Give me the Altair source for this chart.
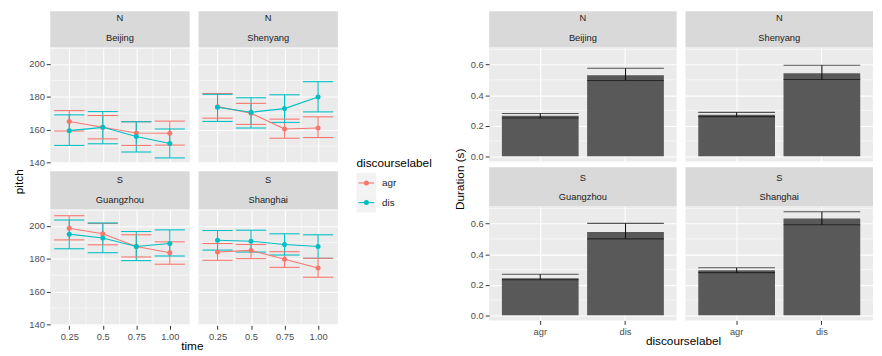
import altair as alt
import pandas as pd

FONT = "Liberation Sans"

cities = ["Beijing", "Shenyang", "Guangzhou", "Shanghai"]
groups = ["N", "N", "S", "S"]
labels = ["agr", "dis"]
times = [0.25, 0.5, 0.75, 1.0]

# pitch (left figure): one list per city, in time order
agr_mean = [[165.0, 161.5, 158.0, 157.8], [174.0, 170.0, 160.4, 161.0],
            [198.6, 195.2, 187.5, 183.7], [184.1, 185.1, 179.7, 174.4]]
agr_lo = [[159.2, 154.4, 150.4, 150.6], [167.0, 163.2, 154.8, 155.2],
          [191.5, 188.5, 181.1, 176.7], [179.1, 180.1, 174.8, 168.8]]
agr_hi = [[171.6, 168.6, 164.8, 165.2], [182.0, 176.0, 166.4, 167.8],
          [206.2, 201.5, 194.6, 190.3], [189.3, 188.7, 184.3, 180.3]]
dis_mean = [[159.4, 161.4, 155.8, 151.6], [173.6, 170.6, 172.8, 179.8],
            [195.0, 192.6, 187.5, 189.3], [191.3, 190.7, 188.7, 187.5]]
dis_lo = [[150.4, 151.4, 146.4, 142.8], [165.0, 161.0, 164.4, 170.8],
          [186.1, 183.7, 178.9, 181.7], [185.3, 184.1, 182.3, 180.3]]
dis_hi = [[169.0, 171.0, 164.8, 160.4], [181.5, 179.4, 181.2, 189.2],
          [203.6, 201.8, 196.6, 197.6], [197.2, 197.4, 195.2, 194.6]]

# duration (right figure): one value per city
dur_agr_mean = [0.265, 0.272, 0.242, 0.294]
dur_agr_lo = [0.250, 0.259, 0.232, 0.279]
dur_agr_hi = [0.280, 0.287, 0.268, 0.311]
dur_dis_mean = [0.530, 0.543, 0.545, 0.634]
dur_dis_lo = [0.496, 0.502, 0.500, 0.593]
dur_dis_hi = [0.576, 0.596, 0.602, 0.678]

pitch_ticks = [140, 160, 180, 200]
pitch_minor = [150, 170, 190]
time_minor = [0.375, 0.625, 0.875]
dur_ticks = [0.0, 0.2, 0.4, 0.6]
dur_minor = [0.1, 0.3, 0.5, 0.7]

# ---- tables built from the lists ----
prow = []
for ci, city in enumerate(cities):
    for ti, t in enumerate(times):
        prow.append(dict(city=city, time=t, label="agr", mean=agr_mean[ci][ti],
                         lo=agr_lo[ci][ti], hi=agr_hi[ci][ti]))
        prow.append(dict(city=city, time=t, label="dis", mean=dis_mean[ci][ti],
                         lo=dis_lo[ci][ti], hi=dis_hi[ci][ti]))
pitch_df = pd.DataFrame(prow)

drow = []
for ci, city in enumerate(cities):
    drow.append(dict(city=city, label="agr", mean=dur_agr_mean[ci], lo=dur_agr_lo[ci], hi=dur_agr_hi[ci]))
    drow.append(dict(city=city, label="dis", mean=dur_dis_mean[ci], lo=dur_dis_lo[ci], hi=dur_dis_hi[ci]))
dur_df = pd.DataFrame(drow)

color_scale = alt.Scale(domain=labels, range=["#F8766D", "#00BFC4"])
PANEL_BG = alt.ViewBackground(fill="#EBEBEB", stroke=None)


def strip(group, city, width, height):
    df = pd.DataFrame({"group": [group], "city": [city]})
    base = alt.Chart(df)
    t1 = base.mark_text(fontSize=9.5, color="#1A1A1A", font=FONT, baseline="middle").encode(
        x=alt.value(width / 2), y=alt.value(height - 29.5), text="group:N")
    t2 = base.mark_text(fontSize=9.5, color="#1A1A1A", font=FONT, baseline="middle").encode(
        x=alt.value(width / 2), y=alt.value(height - 9.5), text="city:N")
    return alt.layer(t1, t2).properties(
        width=width, height=height, view=alt.ViewBackground(fill="#D9D9D9", stroke=None))


def pitch_plot(city, show_x, show_y, w, h):
    d = pitch_df[pitch_df.city == city]
    xs = alt.Scale(domain=[0.108, 1.148], nice=False, zero=False)
    ys = alt.Scale(domain=[139.5, 209.4], nice=False, zero=False)
    xa = alt.Axis(values=times, title=None, grid=True, gridColor="white", gridWidth=1.1,
                  labels=show_x, ticks=show_x,
                  labelExpr="datum.value == 1 ? '1.00' : toString(datum.value)")
    ya = alt.Axis(values=pitch_ticks, title=None, grid=True, gridColor="white", gridWidth=1.1,
                  labels=show_y, ticks=show_y)
    mx = alt.Chart(pd.DataFrame({"v": time_minor})).mark_rule(color="white", strokeWidth=0.55).encode(
        x=alt.X("v:Q", scale=xs, axis=xa))
    my = alt.Chart(pd.DataFrame({"v": pitch_minor})).mark_rule(color="white", strokeWidth=0.55).encode(
        y=alt.Y("v:Q", scale=ys, axis=ya))
    base = alt.Chart(d)
    col = alt.Color("label:N", scale=color_scale, legend=None)
    vbar = base.mark_rule(strokeWidth=1.1).encode(
        x=alt.X("time:Q", scale=xs, axis=xa), y=alt.Y("lo:Q", scale=ys, axis=ya), y2="hi:Q", color=col)
    caps_lo = base.transform_calculate(x0="datum.time - 0.1125", x1="datum.time + 0.1125").mark_rule(
        strokeWidth=1.1).encode(x=alt.X("x0:Q", scale=xs, axis=xa), x2="x1:Q",
                                y=alt.Y("lo:Q", scale=ys, axis=ya), color=col)
    caps_hi = base.transform_calculate(x0="datum.time - 0.1125", x1="datum.time + 0.1125").mark_rule(
        strokeWidth=1.1).encode(x=alt.X("x0:Q", scale=xs, axis=xa), x2="x1:Q",
                                y=alt.Y("hi:Q", scale=ys, axis=ya), color=col)
    line = base.mark_line(strokeWidth=1.1).encode(
        x=alt.X("time:Q", scale=xs, axis=xa), y=alt.Y("mean:Q", scale=ys, axis=ya), color=col)
    pts = base.mark_circle(size=26, opacity=1).encode(
        x=alt.X("time:Q", scale=xs, axis=xa), y=alt.Y("mean:Q", scale=ys, axis=ya), color=col)
    return alt.layer(mx, my, vbar, caps_lo, caps_hi, line, pts).properties(
        width=w, height=h, view=PANEL_BG)


def dur_plot(city, show_x, show_y, w, h):
    d = dur_df[dur_df.city == city]
    xs = alt.Scale(domain=labels, paddingInner=0.1, paddingOuter=0.15)
    ys = alt.Scale(domain=[-0.034, 0.712], nice=False, zero=False)
    xa = alt.Axis(title=None, grid=True, gridColor="white", gridWidth=1.1, labels=show_x,
                  ticks=show_x, bandPosition=0.5, labelAngle=0)
    ya = alt.Axis(values=dur_ticks, format=".1f", title=None, grid=True, gridColor="white",
                  gridWidth=1.1, labels=show_y, ticks=show_y)
    my = alt.Chart(pd.DataFrame({"v": dur_minor})).mark_rule(color="white", strokeWidth=0.55).encode(
        y=alt.Y("v:Q", scale=ys, axis=ya))
    base = alt.Chart(d)
    bars = base.mark_bar(color="#595959").encode(
        x=alt.X("label:N", scale=xs, axis=xa), y=alt.Y("mean:Q", scale=ys, axis=ya), y2=alt.datum(0))
    bw = w / 2.2 * 0.9
    vbar = base.mark_rule(color="#111111", strokeWidth=1.1).encode(
        x=alt.X("label:N", scale=xs, axis=xa), y=alt.Y("lo:Q", scale=ys, axis=ya), y2="hi:Q")
    cap_lo = base.mark_tick(color="#111111", thickness=1.1, size=bw, orient="horizontal").encode(
        x=alt.X("label:N", scale=xs, axis=xa), y=alt.Y("lo:Q", scale=ys, axis=ya))
    cap_hi = base.mark_tick(color="#111111", thickness=1.1, size=bw, orient="horizontal").encode(
        x=alt.X("label:N", scale=xs, axis=xa), y=alt.Y("hi:Q", scale=ys, axis=ya))
    return alt.layer(my, bars, vbar, cap_lo, cap_hi).properties(width=w, height=h, view=PANEL_BG)


def panel(plotfn, idx, row, col, w, h, sh):
    return alt.vconcat(strip(groups[idx], cities[idx], w, sh),
                       plotfn(cities[idx], row == 1, col == 0, w, h), spacing=0)


# left figure
LW, LH = 142, 117
left_rows = alt.vconcat(
    alt.hconcat(panel(pitch_plot, 0, 0, 0, LW, LH, 37), panel(pitch_plot, 1, 0, 1, LW, LH, 37), spacing=7),
    alt.hconcat(panel(pitch_plot, 2, 1, 0, LW, LH, 39), panel(pitch_plot, 3, 1, 1, LW, LH, 39), spacing=7),
    spacing=4,
).properties(title=alt.TitleParams("time", orient="bottom", anchor="middle", offset=1, dx=9))
left_fig = alt.hconcat(left_rows).properties(
    title=alt.TitleParams("pitch", orient="left", anchor="middle", offset=3))

# right figure
RW, RH = 191, 116
right_rows = alt.vconcat(
    alt.hconcat(panel(dur_plot, 0, 0, 0, RW, RH, 37), panel(dur_plot, 1, 0, 1, RW, RH, 37), spacing=7),
    alt.hconcat(panel(dur_plot, 2, 1, 0, RW, RH, 40), panel(dur_plot, 3, 1, 1, RW, RH, 40), spacing=7),
    spacing=6,
).properties(title=alt.TitleParams("discourselabel", orient="bottom", anchor="middle", offset=1, dx=12))
right_fig = alt.hconcat(right_rows).properties(
    title=alt.TitleParams("Duration (s)", orient="left", anchor="middle", offset=3))

# legend for the left figure
leg_df = pd.DataFrame({"label": labels})
ly = alt.Y("label:N", scale=alt.Scale(type="point", domain=labels, range=[175, 195], padding=0), axis=None)
lbase = alt.Chart(leg_df)
leg_title = alt.Chart(pd.DataFrame({"t": ["discourselabel"]})).mark_text(
    align="left", baseline="middle", fontSize=12, font=FONT, color="black").encode(
    x=alt.value(18), y=alt.value(155), text="t:N")
keys = lbase.mark_point(shape="square", filled=True, size=400, color="#F2F2F2", opacity=1).encode(
    x=alt.value(28), y=ly)
klines = lbase.mark_rule(strokeWidth=1.1).encode(
    x=alt.value(20), x2=alt.value(36), y=ly, color=alt.Color("label:N", scale=color_scale, legend=None))
kpts = lbase.mark_circle(size=26, opacity=1).encode(
    x=alt.value(28), y=ly, color=alt.Color("label:N", scale=color_scale, legend=None))
ktext = lbase.mark_text(align="left", baseline="middle", fontSize=10, font=FONT, color="#1A1A1A").encode(
    x=alt.value(44), y=ly, text="label:N")
legend = alt.layer(leg_title, keys, klines, kpts, ktext).properties(
    width=117, height=320, view=alt.ViewBackground(fill=None, stroke=None))

chart = alt.hconcat(left_fig, legend, right_fig, spacing=0).properties(
    padding={"left": 5, "top": 0, "right": 0, "bottom": 0}, background="white"
).configure_axis(
    labelFont=FONT, labelFontSize=9.5, labelColor="#4D4D4D", tickColor="#333333", tickSize=4,
    tickWidth=1, domain=False, labelPadding=2, gridColor="white"
).configure_title(font=FONT, fontSize=12, fontWeight="normal", color="black"
).configure_text(font=FONT)

chart.save("out.html", embed_options={"renderer": "svg", "actions": False})
